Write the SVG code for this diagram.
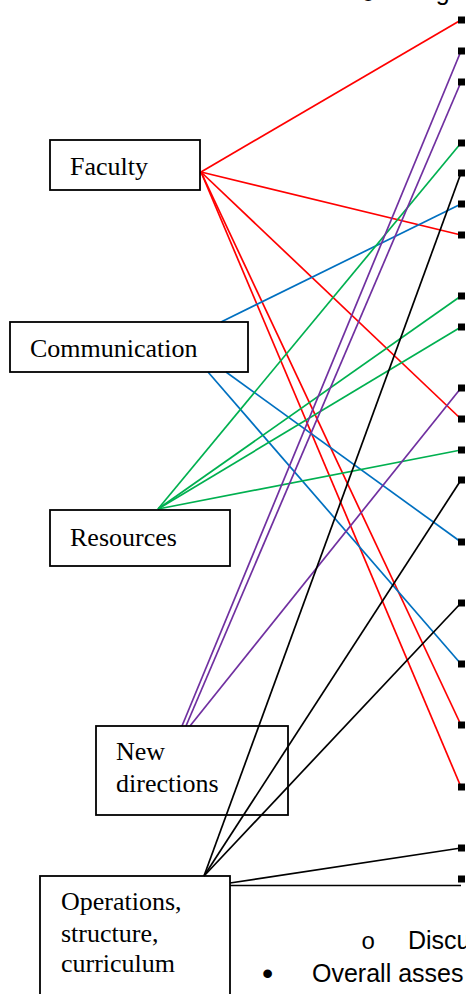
<svg xmlns="http://www.w3.org/2000/svg" width="466" height="994" viewBox="0 0 466 994">
<style>
.box{fill:none;stroke:#000;stroke-width:1.8}
.lbl{font-family:"Liberation Serif","Times New Roman",serif;font-size:26px;fill:#000}
.body{font-family:"Liberation Sans",Arial,sans-serif;font-size:25px;fill:#000}
.mono{font-family:"Liberation Mono","Courier New",monospace;font-size:24px;fill:#000}
.c{fill:none;stroke-width:1.7}
.r{stroke:#FF0000}.b{stroke:#0070C0}.g{stroke:#00B050}.p{stroke:#7030A0}.k{stroke:#000}
.sq{fill:#000}
</style>
<rect width="466" height="994" fill="#fff"/>
<g id="page-text">
<text class="mono" x="361" y="1">o</text>
<text class="body" x="408" y="0">Org</text>
<text class="mono" x="361" y="949">o</text>
<text class="body" x="408" y="949">Discu</text>
<text class="body" x="262" y="984" style="font-size:32px">•</text>
<text class="body" x="312" y="982">Overall asses</text>
</g>
<g id="connectors">
<line class="c r" x1="201" y1="172" x2="461" y2="20"/>
<line class="c r" x1="201" y1="172" x2="461" y2="235"/>
<line class="c r" x1="201" y1="172" x2="461" y2="419"/>
<line class="c r" x1="201" y1="172" x2="461" y2="725"/>
<line class="c r" x1="201" y1="172" x2="461" y2="787"/>
<line class="c b" x1="221" y1="322" x2="461" y2="204"/>
<line class="c b" x1="226" y1="372" x2="461" y2="542"/>
<line class="c b" x1="208" y1="372" x2="461" y2="664"/>
<line class="c g" x1="158" y1="509" x2="461" y2="143"/>
<line class="c g" x1="158" y1="509" x2="461" y2="296"/>
<line class="c g" x1="158" y1="509" x2="461" y2="327"/>
<line class="c g" x1="158" y1="509" x2="461" y2="450"/>
<line class="c p" x1="182" y1="726" x2="461" y2="51"/>
<line class="c p" x1="186" y1="726" x2="461" y2="82"/>
<line class="c p" x1="190" y1="726" x2="461" y2="388"/>
<line class="c k" x1="204" y1="876" x2="461" y2="173"/>
<line class="c k" x1="204" y1="876" x2="461" y2="480"/>
<line class="c k" x1="204" y1="876" x2="461" y2="603"/>
<line class="c k" x1="230" y1="883" x2="461" y2="848"/>
<line class="c k" x1="230" y1="885.5" x2="461" y2="885.5"/>
</g>
<g id="endpoints">
<rect class="sq" x="458" y="16.5" width="7" height="7"/>
<rect class="sq" x="458" y="47.5" width="7" height="7"/>
<rect class="sq" x="458" y="78.5" width="7" height="7"/>
<rect class="sq" x="458" y="139.5" width="7" height="7"/>
<rect class="sq" x="458" y="169.5" width="7" height="7"/>
<rect class="sq" x="458" y="200.5" width="7" height="7"/>
<rect class="sq" x="458" y="231.5" width="7" height="7"/>
<rect class="sq" x="458" y="292.5" width="7" height="7"/>
<rect class="sq" x="458" y="323.5" width="7" height="7"/>
<rect class="sq" x="458" y="384.5" width="7" height="7"/>
<rect class="sq" x="458" y="415.5" width="7" height="7"/>
<rect class="sq" x="458" y="446.5" width="7" height="7"/>
<rect class="sq" x="458" y="476.5" width="7" height="7"/>
<rect class="sq" x="458" y="538.5" width="7" height="7"/>
<rect class="sq" x="458" y="599.5" width="7" height="7"/>
<rect class="sq" x="458" y="660.5" width="7" height="7"/>
<rect class="sq" x="458" y="721.5" width="7" height="7"/>
<rect class="sq" x="458" y="783.5" width="7" height="7"/>
<rect class="sq" x="458" y="844.5" width="7" height="7"/>
<rect class="sq" x="458" y="875.5" width="7" height="7"/>
</g>
<g id="faculty">
<rect class="box" x="50" y="140" width="150" height="50"/>
<text class="lbl" x="70" y="175">Faculty</text>
</g>
<g id="communication">
<rect class="box" x="10" y="322" width="238" height="50"/>
<text class="lbl" x="30" y="357">Communication</text>
</g>
<g id="resources">
<rect class="box" x="50" y="510" width="180" height="56"/>
<text class="lbl" x="70" y="546">Resources</text>
</g>
<g id="new-directions">
<rect class="box" x="96" y="726" width="192" height="89"/>
<text class="lbl" x="116" y="760">New</text>
<text class="lbl" x="116" y="792">directions</text>
</g>
<g id="operations">
<rect class="box" x="40" y="876" width="190" height="140"/>
<text class="lbl" x="61" y="910">Operations,</text>
<text class="lbl" x="61" y="942">structure,</text>
<text class="lbl" x="61" y="972">curriculum</text>
</g>
</svg>
